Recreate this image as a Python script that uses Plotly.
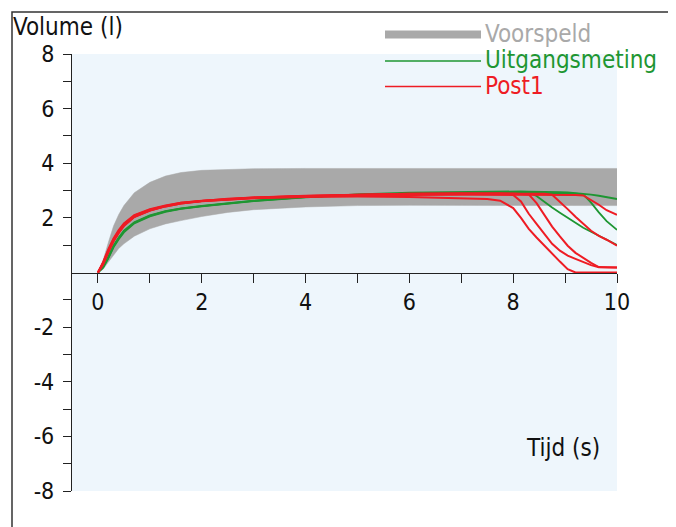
import plotly.graph_objects as go

# ---- data ----
tijd = [0, 0.1, 0.2, 0.3, 0.4, 0.5, 0.7, 1.0, 1.3, 1.6, 2, 2.5, 3, 4, 5, 6, 7,
        7.5, 7.75, 8.0, 8.15, 8.3, 8.45, 8.6, 8.75, 8.9, 9.05, 9.2, 9.35, 9.5,
        9.65, 9.8, 10]

voorspeld_boven = [0, 0.45, 1.1, 1.7, 2.12, 2.45, 2.92, 3.3, 3.53, 3.66, 3.74, 3.78, 3.8,
                   3.81, 3.81, 3.81, 3.81, 3.81, 3.81, 3.81, 3.81, 3.81, 3.81, 3.81,
                   3.81, 3.81, 3.81, 3.81, 3.81, 3.81, 3.81, 3.81, 3.81]
voorspeld_onder = [0, 0.12, 0.38, 0.65, 0.88, 1.05, 1.33, 1.6, 1.78, 1.9, 2.05, 2.2, 2.3,
                   2.4, 2.45, 2.46, 2.46, 2.46, 2.46, 2.46, 2.46, 2.46, 2.46, 2.46,
                   2.46, 2.46, 2.46, 2.46, 2.45, 2.45, 2.45, 2.45, 2.45]

uitgangsmeting = [
    [0, 0.2, 0.55, 0.95, 1.25, 1.5, 1.82, 2.07, 2.24, 2.34, 2.43, 2.53, 2.62, 2.76, 2.86,
     2.92, 2.95, 2.96, 2.97, 2.97, 2.97, 2.96, 2.96, 2.95, 2.95, 2.94, 2.93, 2.91, 2.88,
     2.85, 2.81, 2.77, 2.69],
    [0, 0.18, 0.52, 0.92, 1.22, 1.47, 1.8, 2.05, 2.22, 2.33, 2.42, 2.52, 2.61, 2.75, 2.84,
     2.89, 2.91, 2.92, 2.92, 2.92, 2.92, 2.92, 2.8, 2.58, 2.38, 2.19, 2.0, 1.82, 1.64,
     1.49, 1.35, 1.2, 1.01],
    [0, 0.22, 0.58, 0.98, 1.28, 1.53, 1.84, 2.09, 2.25, 2.35, 2.44, 2.54, 2.63, 2.77, 2.85,
     2.89, 2.91, 2.91, 2.91, 2.91, 2.91, 2.91, 2.91, 2.91, 2.91, 2.91, 2.9, 2.89, 2.86,
     2.56, 2.2, 1.88, 1.56],
]

post1 = [
    [0, 0.38, 0.85, 1.25, 1.55, 1.8, 2.1, 2.32, 2.45, 2.55, 2.62, 2.68, 2.72, 2.76, 2.78,
     2.76, 2.73, 2.69, 2.63, 2.36, 2.0, 1.6, 1.28, 0.98, 0.69, 0.4, 0.12, 0, 0, 0, 0, 0, 0],
    [0, 0.33, 0.78, 1.18, 1.48, 1.73, 2.05, 2.28, 2.43, 2.54, 2.62, 2.69, 2.74, 2.8, 2.84,
     2.87, 2.88, 2.87, 2.86, 2.84, 2.6, 2.15, 1.78, 1.4, 1.05, 0.8, 0.62, 0.5, 0.38, 0.27,
     0.19, 0.18, 0.18],
    [0, 0.3, 0.74, 1.14, 1.45, 1.7, 2.03, 2.27, 2.42, 2.53, 2.62, 2.7, 2.75, 2.81, 2.85,
     2.88, 2.9, 2.9, 2.9, 2.89, 2.88, 2.86, 2.54, 2.12, 1.68, 1.32, 0.98, 0.72, 0.52, 0.35,
     0.2, 0.18, 0.18],
    [0, 0.36, 0.82, 1.22, 1.52, 1.77, 2.08, 2.3, 2.44, 2.55, 2.63, 2.7, 2.75, 2.81, 2.85,
     2.88, 2.89, 2.89, 2.89, 2.89, 2.89, 2.89, 2.89, 2.88, 2.85, 2.6, 2.32, 2.04, 1.78,
     1.53, 1.34, 1.2, 0.98],
    [0, 0.32, 0.76, 1.16, 1.46, 1.72, 2.04, 2.27, 2.42, 2.53, 2.61, 2.68, 2.73, 2.79, 2.82,
     2.84, 2.85, 2.85, 2.85, 2.85, 2.85, 2.85, 2.85, 2.85, 2.85, 2.85, 2.85, 2.84, 2.82,
     2.66, 2.48, 2.28, 2.11],
]

x_ticks = list(range(0, 11))
x_labels = [str(v) if v % 2 == 0 else "" for v in x_ticks]
y_ticks = [v for v in range(-8, 9) if v != 0]
y_labels = [str(v) if v % 2 == 0 else "" for v in y_ticks]

legend_names = ["Voorspeld", "Uitgangsmeting", "Post1"]

# ---- styles ----
GRAY = "#a9a9a9"
GREEN = "#1e9632"
RED = "#ee1c24"
FONT = "DejaVu Sans Condensed, DejaVu Sans"
FS = 24
TFS = 23
INK = "#111111"

fig = go.Figure()

fig.add_trace(go.Scatter(x=tijd, y=voorspeld_onder, mode="lines",
                         line=dict(color=GRAY, width=0.5), hoverinfo="skip",
                         showlegend=False))
fig.add_trace(go.Scatter(x=tijd, y=voorspeld_boven, mode="lines", fill="tonexty",
                         fillcolor=GRAY, line=dict(color=GRAY, width=0.5),
                         name=legend_names[0], showlegend=False))

for serie in uitgangsmeting:
    fig.add_trace(go.Scatter(x=tijd, y=serie, mode="lines",
                             line=dict(color=GREEN, width=1.8),
                             name=legend_names[1], showlegend=False))
for serie in post1:
    fig.add_trace(go.Scatter(x=tijd, y=serie, mode="lines",
                             line=dict(color=RED, width=2),
                             name=legend_names[2], showlegend=False))

# page has an 8px body margin; figure is sized to fit the window
OFF = 8
W, H = 676 - OFF, 527 - OFF
L, R, T, B = 72 - OFF, 59, 54 - OFF, 36
pw, ph = W - L - R, H - T - B


def px(xp):
    return (xp - OFF - L) / pw


def py(yp):
    return (H - B - (yp - OFF)) / ph


# legend (drawn manually to match the reference's layout)
leg_rows = [(legend_names[0], GRAY, 8, 34.5),
            (legend_names[1], GREEN, 1.5, 61),
            (legend_names[2], RED, 1.5, 86.5)]
shapes = []
annotations = []
for name, col, w, yp in leg_rows:
    shapes.append(dict(type="line", xref="paper", yref="paper",
                       x0=px(385), x1=px(481), y0=py(yp), y1=py(yp),
                       line=dict(color=col, width=w)))
    annotations.append(dict(text=name, xref="paper", yref="paper", x=px(483),
                            y=py(yp - 1), xanchor="left", yanchor="middle",
                            showarrow=False, font=dict(family=FONT, size=FS, color=col)))

# outer frame
shapes.append(dict(type="rect", xref="paper", yref="paper", x0=px(12), x1=px(675),
                   y0=py(540), y1=py(12), line=dict(color="#333333", width=1.5),
                   fillcolor="rgba(0,0,0,0)", layer="below"))

annotations.append(dict(text="Volume (l)", xref="paper", yref="paper", x=px(11),
                        y=py(27), xanchor="left", yanchor="middle", showarrow=False,
                        font=dict(family=FONT, size=TFS + 1, color=INK)))
annotations.append(dict(text="Tijd (s)", xref="paper", yref="paper", x=px(563),
                        y=py(448), xanchor="center", yanchor="middle", showarrow=False,
                        font=dict(family=FONT, size=FS, color=INK)))

fig.update_layout(
    width=W, height=H,
    margin=dict(l=L, r=R, t=T, b=B, pad=0),
    paper_bgcolor="white",
    plot_bgcolor="#eef6fc",
    showlegend=False,
    font=dict(family=FONT, size=FS, color=INK),
    shapes=shapes,
    annotations=annotations,
    xaxis=dict(range=[-0.5, 10], tickmode="array", tickvals=x_ticks, ticktext=x_labels,
               showline=True, linecolor="#222222", linewidth=1.2, ticks="outside",
               ticklen=9, tickwidth=1.2, tickcolor="#222222", showgrid=False,
               zeroline=False, anchor="free", position=0.5,
               tickfont=dict(family=FONT, size=TFS, color=INK)),
    yaxis=dict(range=[-8, 8], tickmode="array", tickvals=y_ticks, ticktext=y_labels,
               showline=True, linecolor="#222222", linewidth=1.2, ticks="outside",
               ticklen=8, tickwidth=1.2, tickcolor="#222222", showgrid=False,
               zeroline=False, ticklabelstandoff=4,
               tickfont=dict(family=FONT, size=TFS, color=INK)),
)

fig.write_html("out.html")
